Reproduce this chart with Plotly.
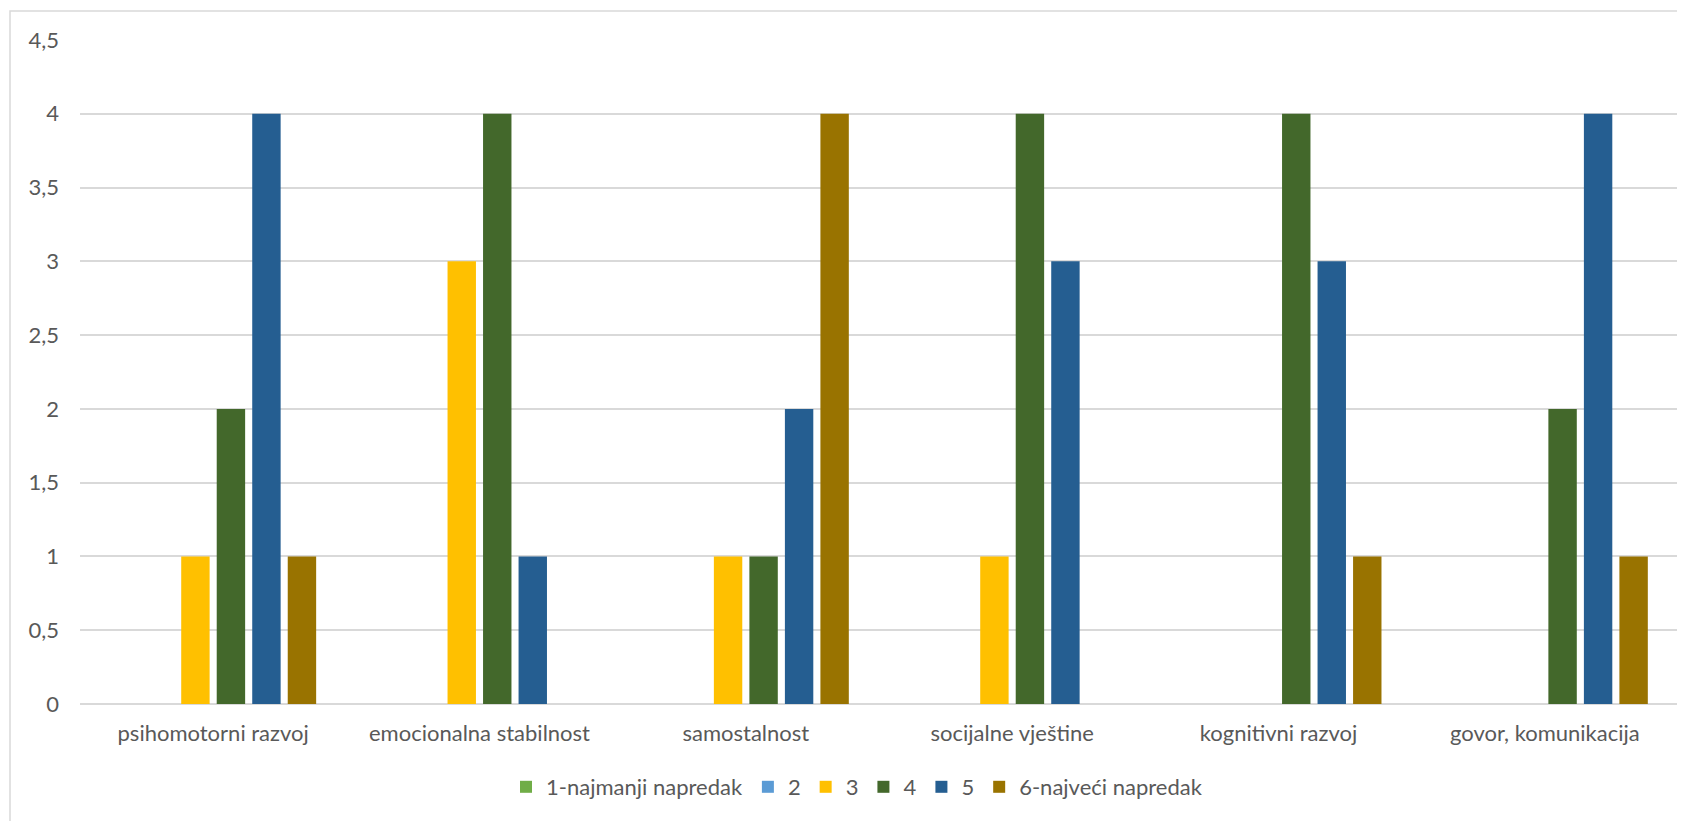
import plotly.graph_objects as go

categories = ["psihomotorni razvoj", "emocionalna stabilnost", "samostalnost",
              "socijalne vještine", "kognitivni razvoj", "govor, komunikacija"]
series_names = ["1-najmanji napredak", "2", "3", "4", "5", "6-najveći napredak"]
s1 = [0, 0, 0, 0, 0, 0]
s2 = [0, 0, 0, 0, 0, 0]
s3 = [1, 3, 1, 1, 0, 0]
s4 = [2, 4, 1, 4, 4, 2]
s5 = [4, 1, 2, 3, 3, 4]
s6 = [1, 0, 4, 0, 1, 1]
series_values = [s1, s2, s3, s4, s5, s6]
colors = ["#70AD47", "#5B9BD5", "#FFC000", "#43682B", "#255E91", "#997300"]
tick_vals = [0, 0.5, 1, 1.5, 2, 2.5, 3, 3.5, 4, 4.5]
tick_text = ["0", "0,5", "1", "1,5", "2", "2,5", "3", "3,5", "4", "4,5"]

OFF = 8  # default body margin of the page
W, H = 1685 - OFF, 821 - OFF
L, R, T = 80 - OFF, 7, 40 - OFF
B = H - (704 - OFF)
pw, ph = W - L - R, H - T - B


def px_x(x):
    return (x - OFF - L) / pw


def px_y(y):
    return (H - B - (y - OFF)) / ph


fig = go.Figure()
for name, vals, c in zip(series_names, series_values, colors):
    fig.add_trace(go.Bar(
        x=categories, y=vals, name=name,
        marker=dict(color=c, line=dict(width=0)),
    ))

font = "Lato, Carlito, Calibri, sans-serif"
fs = 22
fig.update_layout(
    width=W, height=H,
    margin=dict(l=L, r=R, t=T, b=B, pad=0),
    paper_bgcolor="white", plot_bgcolor="white",
    barmode="group", bargap=0.2, bargroupgap=0.2,
    font=dict(family=font, size=fs, color="#595959"),
    showlegend=True,
    legend=dict(orientation="h", x=px_x(857), xanchor="center",
                y=px_y(787), yanchor="middle",
                font=dict(family=font, size=fs, color="#595959"),
                bgcolor="rgba(0,0,0,0)"),
    xaxis=dict(showgrid=False, showline=False, ticks="", ticklabelstandoff=14,
               tickfont=dict(family=font, size=fs, color="#595959")),
    yaxis=dict(range=[0, 4.5], tickvals=tick_vals, ticktext=tick_text,
               showgrid=True, gridcolor="#D9D9D9", gridwidth=1.5,
               zeroline=True, zerolinecolor="#D9D9D9", zerolinewidth=1.5,
               showline=False, ticks="", ticklabelstandoff=20,
               tickfont=dict(family=font, size=fs, color="#595959")),
    shapes=[dict(type="rect", xref="paper", yref="paper",
                 x0=px_x(10), x1=px_x(1720),
                 y0=px_y(860), y1=px_y(11),
                 line=dict(color="#D9D9D9", width=1.5), fillcolor="rgba(0,0,0,0)",
                 layer="below")],
)

fig.write_html("out.html")
